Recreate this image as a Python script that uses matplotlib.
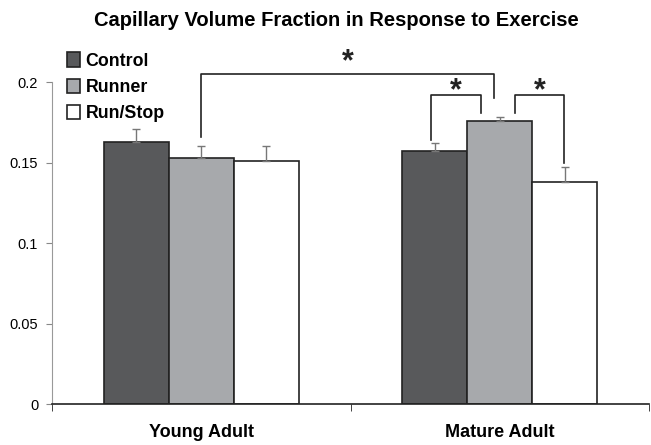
import numpy as np
import matplotlib.pyplot as plt
from matplotlib.patches import Patch

plt.rcParams['font.family'] = ['Liberation Sans', 'DejaVu Sans']

groups = ['Young Adult', 'Mature Adult']
series = ['Control', 'Runner', 'Run/Stop']
control = [0.163, 0.157]
runner = [0.153, 0.176]
runstop = [0.151, 0.138]
control_err = [0.008, 0.005]
runner_err = [0.007, 0.002]
runstop_err = [0.009, 0.009]
yticks = [0, 0.05, 0.1, 0.15, 0.2]
ytick_labels = ['0', '0.05', '0.1', '0.15', '0.2']

colors = ['#58595b', '#a7a9ac', '#ffffff']
values = [control, runner, runstop]
errors = [control_err, runner_err, runstop_err]

fig = plt.figure(figsize=(6.51, 4.45), dpi=100)
ax = fig.add_axes([0.08, 0.092, 0.917, 0.7236])

x = np.arange(len(groups))
w = 0.218
for i, (vals, errs, c) in enumerate(zip(values, errors, colors)):
    pos = x + (i - 1) * w
    ax.bar(pos, vals, width=w, color=c, edgecolor='#222222', linewidth=1.2, zorder=2)
    ax.errorbar(pos, vals, yerr=[np.zeros(len(errs)), errs], fmt='none',
                ecolor='#777777', elinewidth=1, capsize=3, capthick=1, zorder=3)

ax.set_xlim(-0.5, 1.5)
ax.set_ylim(0, 0.2)
ax.set_yticks(yticks)
ax.set_yticklabels(ytick_labels, fontsize=10.5)
ax.set_xticks(x)
ax.set_xticklabels(groups, fontsize=13, fontweight='bold')
ax.set_xticks([-0.5, 0.5, 1.5], minor=True)
ax.tick_params(axis='x', which='major', length=0, pad=14)
ax.tick_params(axis='x', which='minor', length=5, color='#222222')
ax.tick_params(axis='y', length=4, color='#888888', pad=6)
for s in ['top', 'right']:
    ax.spines[s].set_visible(False)
ax.spines['left'].set_color('#999999')
ax.spines['bottom'].set_color('#222222')
ax.spines['bottom'].set_linewidth(1.2)

# significance brackets
def bracket(x1, x2, y1, y2, top, star_y):
    ax.plot([x1, x1, x2, x2], [y1, top, top, y2], color='#222222', lw=1.2,
            clip_on=False, zorder=4)
    ax.text((x1 + x2) / 2, star_y, '*', ha='center', va='center', fontsize=22,
            fontweight='bold', color='#222222', clip_on=False)

bracket(x[0], 0.98, 0.166, 0.190, 0.205, 0.2125)
bracket(0.77, 0.937, 0.164, 0.181, 0.192, 0.1945)
bracket(1.051, 1.215, 0.181, 0.150, 0.192, 0.1945)

handles = [Patch(facecolor=c, edgecolor='#222222', linewidth=1.2) for c in colors]
fig.legend(handles, series, loc='upper left', bbox_to_anchor=(0.089, 0.902),
           frameon=False, prop={'weight': 'bold', 'size': 12.8},
           handlelength=0.75, handleheight=0.9, handletextpad=0.3,
           labelspacing=0.48, borderpad=0)

fig.text(0.517, 0.955, 'Capillary Volume Fraction in Response to Exercise',
         ha='center', va='center', fontsize=14.5, fontweight='bold')

fig.savefig('out.png', dpi=100)
